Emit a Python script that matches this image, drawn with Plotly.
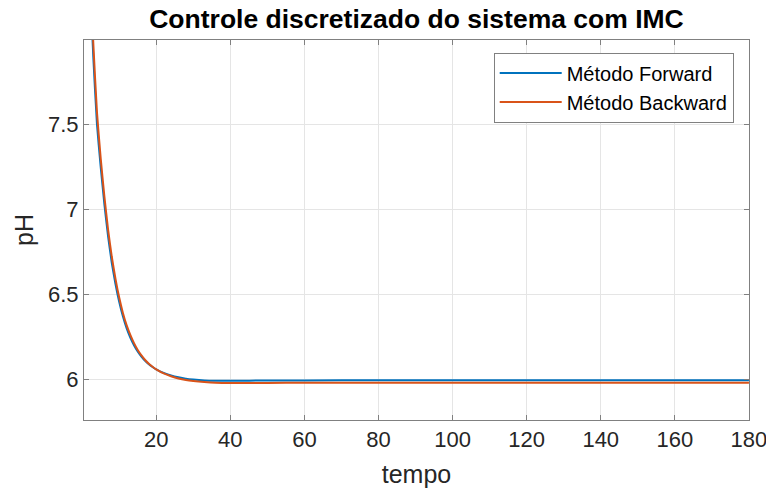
import plotly.graph_objects as go

# time samples (tempo)
t = [1, 2, 3, 4, 5, 6, 7, 8, 9, 10, 11, 12, 13, 14, 15, 16, 17, 18, 19, 20,
     22, 24, 26, 28, 30, 33, 36, 40, 50, 60, 80, 100, 120, 140, 160, 180]

# pH response - forward discretization
ph_forward = [8.95, 8.4, 7.9, 7.5, 7.25, 7.03, 6.84, 6.685, 6.56, 6.455, 6.37, 6.30,
              6.245, 6.2, 6.163, 6.133, 6.108, 6.088, 6.072, 6.058,
              6.037, 6.022, 6.011, 6.003, 5.998, 5.993, 5.991, 5.991, 5.992, 5.993,
              5.994, 5.994, 5.994, 5.994, 5.994, 5.994]

# pH response - backward discretization
ph_backward = [9.05, 8.5, 7.98, 7.57, 7.3, 7.075, 6.88, 6.72, 6.59, 6.48, 6.39, 6.318,
               6.26, 6.212, 6.172, 6.14, 6.113, 6.091, 6.073, 6.058,
               6.034, 6.017, 6.004, 5.995, 5.989, 5.983, 5.979, 5.977, 5.978, 5.979,
               5.979, 5.979, 5.979, 5.979, 5.979, 5.979]

x_ticks = [20, 40, 60, 80, 100, 120, 140, 160, 180]
y_ticks = [6, 6.5, 7, 7.5]
y_tick_labels = ["6", "6.5", "7", "7.5"]

FONT = "Liberation Sans, Arial, sans-serif"
TXT = "#262626"
AX = "#808080"

fig = go.Figure()
fig.add_trace(go.Scatter(x=t, y=ph_forward, mode="lines", name="Método Forward",
                         line=dict(color="#0072BD", width=2, shape="spline", smoothing=0.5)))
fig.add_trace(go.Scatter(x=t, y=ph_backward, mode="lines", name="Método Backward",
                         line=dict(color="#D95319", width=2, shape="spline", smoothing=0.5)))

axis_common = dict(showline=True, linecolor=AX, linewidth=1, mirror="ticks",
                   ticks="inside", ticklen=5, tickcolor=AX,
                   showgrid=True, gridcolor="#e5e5e5", gridwidth=1,
                   zeroline=False, automargin=False, ticklabeloverflow="allow",
                   tickfont=dict(family=FONT, size=22, color=TXT))

fig.update_layout(
    width=766, height=490,
    margin=dict(l=84, r=17, t=40, b=70),
    paper_bgcolor="white", plot_bgcolor="white",
    title=dict(text="<b>Controle discretizado do sistema com IMC</b>",
               font=dict(family=FONT, size=26.5, color="#000000"),
               x=0.5, xref="paper", xanchor="center",
               y=1 - 19 / 490, yref="container", yanchor="middle"),
    xaxis=dict(range=[0.5, 180.02], tickvals=x_ticks,
               title=dict(text="tempo", font=dict(family=FONT, size=25, color=TXT), standoff=14),
               **axis_common),
    yaxis=dict(range=[5.76, 7.995], tickvals=y_ticks, ticktext=y_tick_labels,
               title=dict(text="pH", font=dict(family=FONT, size=25, color=TXT), standoff=7),
               **axis_common),
    legend=dict(x=0.977, y=0.967, xanchor="right", yanchor="top",
                bgcolor="white", bordercolor=AX, borderwidth=1,
                font=dict(family=FONT, size=20, color="#000000"),
                itemwidth=62, tracegroupgap=0),
    showlegend=True,
)

fig.write_html("out.html")
